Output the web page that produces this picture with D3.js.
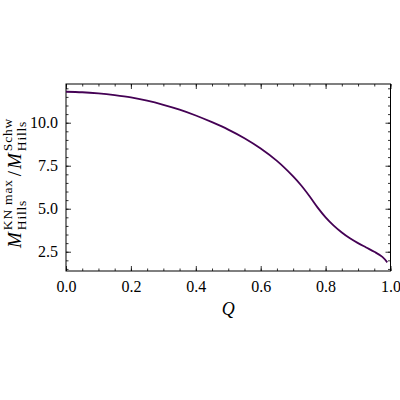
<!DOCTYPE html>
<html>
<head>
<meta charset="utf-8">
<script src="https://cdnjs.cloudflare.com/ajax/libs/d3/7.8.5/d3.min.js"></script>
<style>
  body { margin: 0; background: #fff; }
</style>
</head>
<body>
<div id="chart"></div>
<script>
// mass ratio vs charge parameter Q
var qValues = [0, 0.05, 0.1, 0.15, 0.2, 0.25, 0.3, 0.35, 0.4, 0.45, 0.5, 0.55, 0.6,
               0.65, 0.7, 0.725, 0.75, 0.775, 0.8, 0.825, 0.85, 0.875, 0.9, 0.925, 0.95, 0.975, 0.99];
var ratioValues = [11.80, 11.77, 11.70, 11.60, 11.47, 11.28, 11.04, 10.76, 10.42, 10.03, 9.60, 9.10, 8.50,
                   7.78, 6.88, 6.35, 5.74, 5.08, 4.50, 4.02, 3.62, 3.28, 3.00, 2.75, 2.50, 2.20, 1.88];
var xTicks = [0, 0.2, 0.4, 0.6, 0.8, 1.0];
var yTicks = [2.5, 5.0, 7.5, 10.0];

var W = 400, H = 400,
    margin = { top: 84, right: 9.5, bottom: 129, left: 66 },
    width = W - margin.left - margin.right,
    height = H - margin.top - margin.bottom,
    serif = "'Liberation Serif', 'Times New Roman', 'DejaVu Serif', serif";

var svg = d3.select('#chart')
    .append("svg")
    .attr("width", W)
    .attr("height", H);

var chart = svg.append("g")
    .attr("transform", "translate(" + margin.left + "," + margin.top + ")");

var xScale = d3.scaleLinear().domain([0, 1]).range([0, width]);
var yScale = d3.scaleLinear().domain([1.38, 12.25]).range([height, 0]);

var xMinor = d3.range(0, 1.0001, 0.05);
var yMinor = d3.range(1.5, 12.01, 0.5);

function styleAxis(g) {
    g.attr("font-family", null);
    g.select(".domain").remove();
    g.selectAll("line").attr("stroke", "#000").attr("stroke-width", 0.8);
    g.selectAll("text")
        .style("font-family", serif)
        .style("font-size", "16px")
        .attr("fill", "#000");
}

// major ticks on all four sides, pointing inward
chart.append("g")
    .attr("transform", "translate(0," + height + ")")
    .call(d3.axisBottom(xScale).tickValues(xTicks).tickSize(-5).tickPadding(10).tickFormat(d3.format(".1f")))
    .call(styleAxis);
chart.append("g")
    .call(d3.axisTop(xScale).tickValues(xTicks).tickSize(-5).tickFormat(""))
    .call(styleAxis);
chart.append("g")
    .call(d3.axisLeft(yScale).tickValues(yTicks).tickSize(-5).tickPadding(8).tickFormat(d3.format(".1f")))
    .call(styleAxis);
chart.append("g")
    .attr("transform", "translate(" + width + ",0)")
    .call(d3.axisRight(yScale).tickValues(yTicks).tickSize(-5).tickFormat(""))
    .call(styleAxis);

// minor ticks
chart.append("g")
    .attr("transform", "translate(0," + height + ")")
    .call(d3.axisBottom(xScale).tickValues(xMinor).tickSize(-2.5).tickFormat(""))
    .call(styleAxis);
chart.append("g")
    .call(d3.axisTop(xScale).tickValues(xMinor).tickSize(-2.5).tickFormat(""))
    .call(styleAxis);
chart.append("g")
    .call(d3.axisLeft(yScale).tickValues(yMinor).tickSize(-2.5).tickFormat(""))
    .call(styleAxis);
chart.append("g")
    .attr("transform", "translate(" + width + ",0)")
    .call(d3.axisRight(yScale).tickValues(yMinor).tickSize(-2.5).tickFormat(""))
    .call(styleAxis);

// frame
chart.append("rect")
    .attr("width", width)
    .attr("height", height)
    .attr("fill", "none")
    .attr("stroke", "#000")
    .attr("stroke-width", 1);

// the curve
var line = d3.line()
    .x(function (d, i) { return xScale(qValues[i]); })
    .y(function (d) { return yScale(d); })
    .curve(d3.curveCatmullRom);

chart.append("path")
    .datum(ratioValues)
    .attr("fill", "none")
    .attr("stroke", "#440154")
    .attr("stroke-width", 1.8)
    .attr("d", line);

// x label
svg.append("text")
    .attr("x", margin.left + width / 2)
    .attr("y", 315)
    .attr("text-anchor", "middle")
    .style("font-family", serif)
    .style("font-size", "18px")
    .style("font-style", "italic")
    .text("Q");

// y label: M^{KN max}_{Hills} / M^{Schw}_{Hills}, built piece by piece
var yl = svg.append("g")
    .attr("transform", "translate(21,248) rotate(-90)");

var cursor = 0;
function piece(txt, size, dy, italic, spacing) {
    var t = yl.append("text")
        .attr("x", cursor)
        .attr("y", dy)
        .style("font-family", serif)
        .style("font-size", size + "px")
        .style("font-style", italic ? "italic" : "normal")
        .style("letter-spacing", (spacing || 0) + "px")
        .text(txt);
    return t.node().getComputedTextLength();
}
function scripts(sup, sub) {
    var a = piece(sup, 13.5, -9, false, 0.8);
    var b = piece(sub, 13.5, 4.5, false, 0.8);
    cursor += Math.max(a, b) + 3;
}
cursor += piece("M", 19, 0, true) + 2;
scripts("KN max", "Hills");
cursor += piece("/", 19, 0, false) + 2;
cursor += piece("M", 19, 0, true) + 2;
scripts("Schw", "Hills");
</script>
</body>
</html>
